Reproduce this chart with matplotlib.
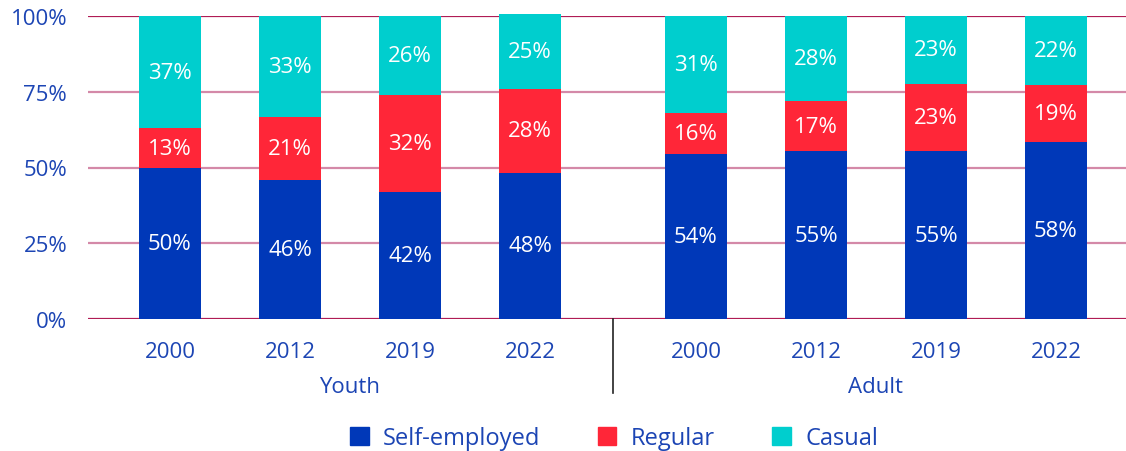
import matplotlib
matplotlib.use("Agg")
import matplotlib.pyplot as plt
from matplotlib.patches import Patch

plt.rcParams['font.family'] = ['Open Sans', 'DejaVu Sans']

years = ["2000", "2012", "2019", "2022"]
groups = ["Youth", "Adult"]
series = ["Self-employed", "Regular", "Casual"]

# bar heights
youth_self = [49.8, 45.9, 41.9, 48.2]
youth_reg = [13.2, 20.8, 32.0, 27.7]
youth_cas = [37.0, 33.3, 26.1, 24.8]
adult_self = [54.5, 55.4, 55.4, 58.4]
adult_reg = [13.5, 16.5, 22.2, 18.8]
adult_cas = [32.0, 28.1, 22.4, 22.8]

# displayed labels
youth_self_lbl = [50, 46, 42, 48]
youth_reg_lbl = [13, 21, 32, 28]
youth_cas_lbl = [37, 33, 26, 25]
adult_self_lbl = [54, 55, 55, 58]
adult_reg_lbl = [16, 17, 23, 19]
adult_cas_lbl = [31, 28, 23, 22]

yticks = [0, 25, 50, 75, 100]

c_self = "#0038b8"
c_reg = "#ff2638"
c_cas = "#00cece"
c_text = "#1c45b4"
FS = 16

fig = plt.figure(figsize=(11.26, 4.52), dpi=100)
ax = fig.add_axes([88/1126, 1-320/452, (1126-88)/1126, (320-17)/452])

gap = 1.383
xs = [0, 1, 2, 3] + [3 + gap + i for i in range(4)]
selfv = youth_self + adult_self
regv = youth_reg + adult_reg
casv = youth_cas + adult_cas
selfl = youth_self_lbl + adult_self_lbl
regl = youth_reg_lbl + adult_reg_lbl
casl = youth_cas_lbl + adult_cas_lbl

# gridlines
for t in yticks:
    col = "#b01c55" if t in (0, 100) else "#d489a8"
    ax.axhline(t, color=col, lw=1.6, zorder=0)

w = 0.51
ax.bar(xs, selfv, width=w, color=c_self, zorder=2, clip_on=False)
ax.bar(xs, regv, width=w, bottom=selfv, color=c_reg, zorder=2, clip_on=False)
bot3 = [a + b for a, b in zip(selfv, regv)]
ax.bar(xs, casv, width=w, bottom=bot3, color=c_cas, zorder=2, clip_on=False)

for x, s, r, c, sl, rl, cl in zip(xs, selfv, regv, casv, selfl, regl, casl):
    ax.text(x, s / 2, f"{sl}%", ha="center", va="center", color="white", fontsize=FS, zorder=3)
    ax.text(x, s + r / 2, f"{rl}%", ha="center", va="center", color="white", fontsize=FS, zorder=3)
    ax.text(x, s + r + c / 2, f"{cl}%", ha="center", va="center", color="white", fontsize=FS, zorder=3)

ax.set_ylim(0, 100)
ax.set_xlim(-0.683, (1126 - 170) / 120)
ax.set_yticks(yticks)
ax.set_yticklabels([f"{t}%" for t in yticks])
ax.set_xticks(xs)
ax.set_xticklabels(years + years)
ax.tick_params(axis="both", length=0, labelsize=FS, labelcolor=c_text)
ax.tick_params(axis="y", pad=15)
ax.tick_params(axis="x", pad=15.5)
for sp in ax.spines.values():
    sp.set_visible(False)

# group labels
ax.text(1.5, -22.2, groups[0], ha="center", va="center", fontsize=FS, color=c_text)
ax.text(3 + gap + 1.5, -22.2, groups[1], ha="center", va="center", fontsize=FS, color=c_text)
# divider
div_x = (3 + 3 + gap) / 2
ax.plot([div_x, div_x], [0, -24.3], color="#222222", lw=1.2, clip_on=False)

handles = [Patch(color=c_self), Patch(color=c_reg), Patch(color=c_cas)]
fig.legend(handles, series, loc="center", bbox_to_anchor=(614/1126, 1-439.5/452), ncol=3,
           frameon=False, fontsize=17, handlelength=0.78, handleheight=0.78,
           handletextpad=0.6, columnspacing=2.45, labelcolor=c_text)

fig.savefig("out.png", dpi=100)
